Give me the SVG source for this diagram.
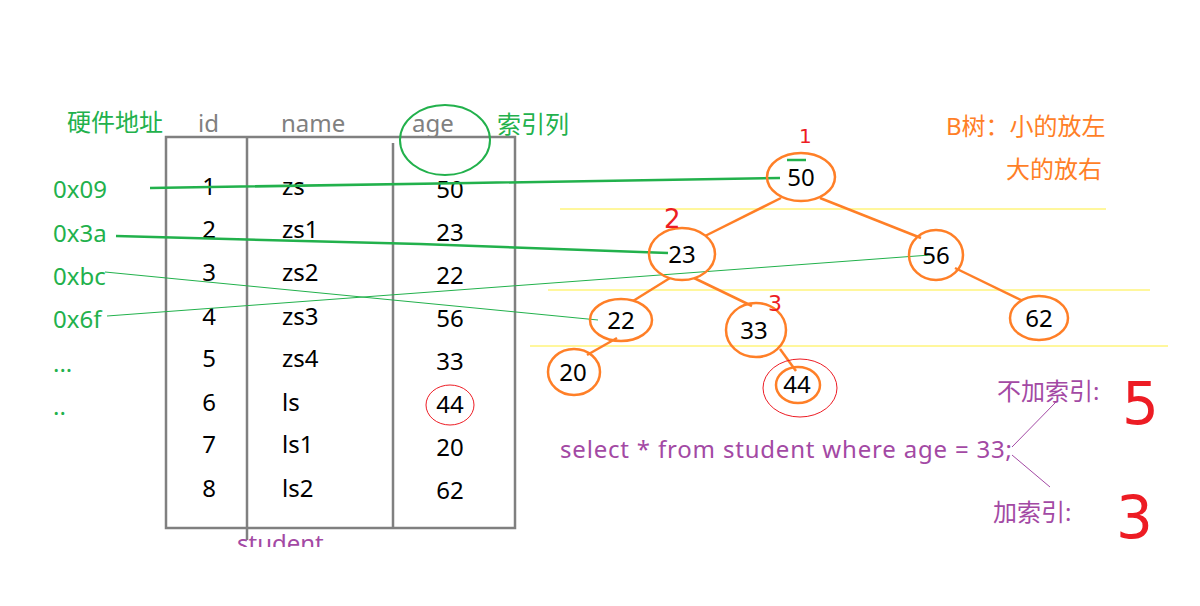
<svg xmlns="http://www.w3.org/2000/svg" width="1200" height="606" viewBox="0 0 1200 606">
<defs>
<style>
text{font-family:"Noto Sans","Noto Sans CJK SC",sans-serif;font-size:24px}
.hdr{fill:#808080}
.cell{fill:#000}
.green{fill:#22b14c}
.orange{fill:#ff7f27}
.purple{fill:#a349a4}
.red{fill:#ed1c24;font-family:"DejaVu Sans",sans-serif}
.cjk{font-size:24px}
.node ellipse{fill:none;stroke:#ff7f27;stroke-width:2.5}
.node text{fill:#000;text-anchor:middle}
.edge{stroke:#ff7f27;stroke-width:2.5;fill:none}
.gl{stroke:#22b14c;fill:none}
.yl{stroke:#ffef3a;stroke-width:1}
.grid{stroke:#808080;stroke-width:2.5;fill:none}
</style>
<clipPath id="clipStudent"><rect x="0" y="0" width="1200" height="547"/></clipPath>
</defs>
<rect width="1200" height="606" fill="#fff"/>

<g id="table">
<rect class="grid" x="166" y="137" width="349" height="391"/>
<line class="grid" x1="247" y1="137" x2="247" y2="540"/>
<line class="grid" x1="393" y1="143" x2="393" y2="528"/>
<text class="hdr" x="198" y="132">id</text>
<text class="hdr" x="281" y="132">name</text>
<text class="hdr" x="412" y="132">age</text>
<g class="cell" text-anchor="middle">
<text x="209" y="195">1</text><text x="209" y="238">2</text><text x="209" y="281">3</text><text x="209" y="325">4</text>
<text x="209" y="367">5</text><text x="209" y="411">6</text><text x="209" y="453">7</text><text x="209" y="497">8</text>
<text x="450" y="198">50</text><text x="450" y="241">23</text><text x="450" y="284">22</text><text x="450" y="327">56</text>
<text x="450" y="370">33</text><text x="450" y="413">44</text><text x="450" y="456">20</text><text x="450" y="499">62</text>
</g>
<g class="cell">
<text x="282" y="195">zs</text><text x="282" y="238">zs1</text><text x="282" y="281">zs2</text><text x="282" y="325">zs3</text>
<text x="282" y="367">zs4</text><text x="282" y="411">ls</text><text x="282" y="453">ls1</text><text x="282" y="497">ls2</text>
</g>
<ellipse cx="450" cy="405" rx="24" ry="20" fill="none" stroke="#ed1c24" stroke-width="1"/>
<ellipse cx="445" cy="140" rx="45" ry="35" fill="none" stroke="#22b14c" stroke-width="2"/>
<text class="purple" x="237" y="552" clip-path="url(#clipStudent)">student</text>
</g>

<g id="addresses" class="green">
<text class="cjk" x="67" y="131">硬件地址</text>
<text class="cjk" x="497" y="133">索引列</text>
<text x="53" y="198">0x09</text>
<text x="53" y="242">0x3a</text>
<text x="53" y="285">0xbc</text>
<text x="53" y="328">0x6f</text>
<text x="53" y="372">...</text>
<text x="53" y="415">..</text>
</g>

<g id="levels">
<line class="yl" x1="560" y1="209" x2="1106" y2="209"/>
<line class="yl" x1="548" y1="290" x2="1150" y2="290"/>
<line class="yl" x1="530" y1="346" x2="1168" y2="346"/>
</g>

<g id="connectors">
<line class="edge" x1="781" y1="198" x2="705" y2="236"/>
<line class="edge" x1="820" y1="198" x2="921" y2="238"/>
<line class="edge" x1="670" y1="278" x2="633" y2="301"/>
<line class="edge" x1="694" y1="278" x2="752" y2="306"/>
<line class="edge" x1="955" y1="268" x2="1021" y2="300"/>
<line class="edge" x1="617" y1="338" x2="587" y2="355"/>
<line class="edge" x1="780" y1="349" x2="796" y2="371"/>
<path class="gl" stroke-width="2.5" d="M150,188 L470,183 L780,178"/>
<path class="gl" stroke-width="2.5" d="M116,236 L420,244 L668,253"/>
<line class="gl" stroke-width="1" x1="105" y1="272" x2="598" y2="320"/>
<line class="gl" stroke-width="1" x1="107" y1="316" x2="930" y2="255"/>
<line class="gl" stroke-width="2.5" x1="787" y1="160" x2="806" y2="160"/>
<line stroke="#a349a4" stroke-width="1" x1="1012" y1="447" x2="1056" y2="402"/>
<line stroke="#a349a4" stroke-width="1" x1="1012" y1="455" x2="1050" y2="487"/>
</g>

<g id="n50" class="node"><ellipse cx="801" cy="177" rx="34" ry="24"/><text x="801" y="186">50</text></g>
<g id="n23" class="node"><ellipse cx="682" cy="254" rx="33" ry="26"/><text x="682" y="263">23</text></g>
<g id="n56" class="node"><ellipse cx="936" cy="255" rx="27" ry="25"/><text x="936" y="264">56</text></g>
<g id="n22" class="node"><ellipse cx="621" cy="320" rx="31" ry="21"/><text x="621" y="329">22</text></g>
<g id="n33" class="node"><ellipse cx="756" cy="330" rx="30" ry="27"/><text x="754" y="339">33</text></g>
<g id="n62" class="node"><ellipse cx="1039" cy="318" rx="29" ry="22"/><text x="1039" y="327">62</text></g>
<g id="n20" class="node"><ellipse cx="574" cy="372" rx="26" ry="23"/><text x="573" y="381">20</text></g>
<g id="n44" class="node"><ellipse cx="798" cy="385" rx="22" ry="18"/><ellipse cx="800" cy="388" rx="37" ry="29" style="stroke:#ed1c24;stroke-width:1"/><text x="797" y="393">44</text></g>

<g id="notes">
<text class="orange cjk" x="946" y="135">B树：小的放左</text>
<text class="orange cjk" x="1006" y="178">大的放右</text>
<text class="purple" x="560" y="458" textLength="452" lengthAdjust="spacing">select * from student where age = 33;</text>
<text class="purple cjk" x="997" y="400">不加索引:</text>
<text class="purple cjk" x="993" y="521">加索引:</text>
<text class="red" x="799" y="143" style="font-size:20px">1</text>
<text class="red" x="664" y="228" style="font-size:26px">2</text>
<text class="red" x="768" y="311" style="font-size:22px">3</text>
<text class="red" x="1122" y="424" style="font-size:58px">5</text>
<text class="red" x="1116" y="538" style="font-size:58px">3</text>
</g>
</svg>
